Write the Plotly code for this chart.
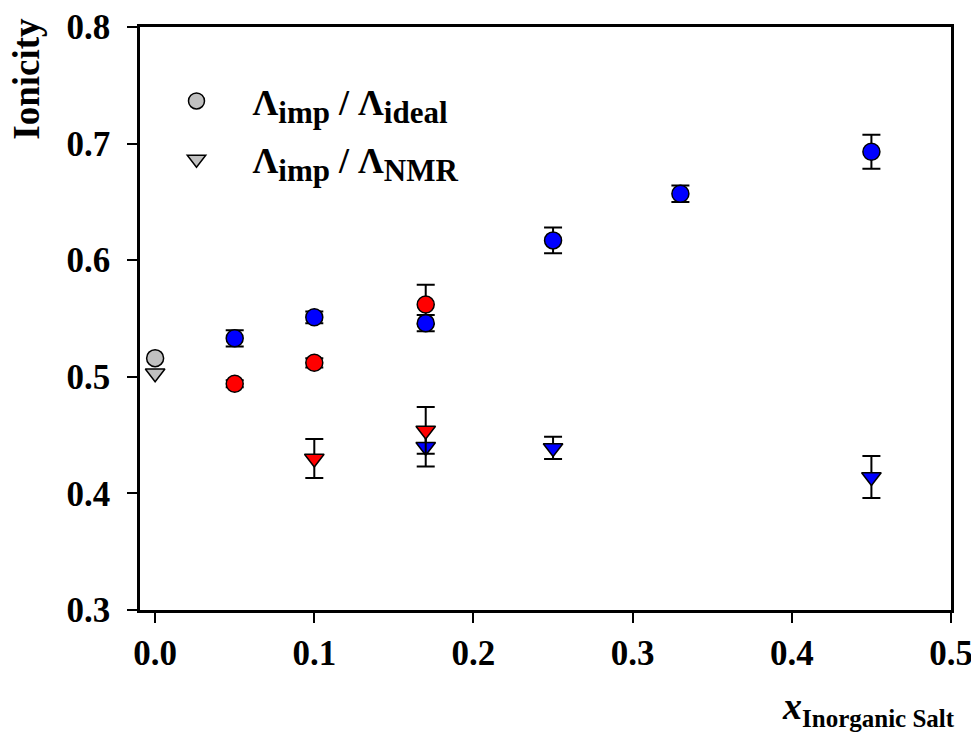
import plotly.graph_objects as go

# Pure IL (x = 0), grey
x_pure = [0.0]
ion_ideal_pure = [0.516]
ion_nmr_pure = [0.503]

# Blue series: Λimp/Λideal (circles)
x_blue_c = [0.05, 0.10, 0.17, 0.25, 0.33, 0.45]
y_blue_c = [0.533, 0.551, 0.546, 0.617, 0.657, 0.693]
e_blue_c = [0.007, 0.005, 0.007, 0.011, 0.007, 0.0145]

# Red series: Λimp/Λideal (circles)
x_red_c = [0.05, 0.10, 0.17]
y_red_c = [0.494, 0.512, 0.562]
e_red_c = [0.003, 0.004, 0.017]

# Blue series: Λimp/ΛNMR (triangles)
x_blue_t = [0.17, 0.25, 0.45]
y_blue_t = [0.440, 0.439, 0.414]
e_blue_t = [0.017, 0.0095, 0.018]

# Red series: Λimp/ΛNMR (triangles)
x_red_t = [0.10, 0.17]
y_red_t = [0.430, 0.454]
e_red_t = [0.0167, 0.020]

x_ticks = [0.0, 0.1, 0.2, 0.3, 0.4, 0.5]
x_ticktext = ["0.0", "0.1", "0.2", "0.3", "0.4", "0.5"]
y_ticks = [0.3, 0.4, 0.5, 0.6, 0.7, 0.8]
y_ticktext = ["0.3", "0.4", "0.5", "0.6", "0.7", "0.8"]

FONT = "Liberation Serif"
ERR = dict(type="data", color="black", thickness=2, width=9)
PAD = "\u00a0" * 4

def trace(x, y, e, color, symbol, name=None, legend=None):
    return go.Scatter(
        x=x, y=y, mode="markers",
        error_y=dict(array=e, **ERR) if e is not None else None,
        marker=dict(color=color, symbol=symbol, size=17,
                    line=dict(color="black", width=1.5)),
        name=name or "", showlegend=legend is not None,
        legend=legend or "legend",
    )

SUB = "<sub><span style='font-size:31px'>{}</span></sub>"

fig = go.Figure()
fig.add_trace(trace(x_red_c, y_red_c, e_red_c, "#ff0000", "circle"))
fig.add_trace(trace(x_blue_c, y_blue_c, e_blue_c, "#0000ff", "circle"))
fig.add_trace(trace(x_blue_t, y_blue_t, e_blue_t, "#0000ff", "triangle-down"))
fig.add_trace(trace(x_red_t, y_red_t, e_red_t, "#ff0000", "triangle-down"))
fig.add_trace(trace(x_pure, ion_ideal_pure, None, "#c0c0c0", "circle",
                    name=PAD + "Λ" + SUB.format("imp") + " / Λ" + SUB.format("ideal"),
                    legend="legend"))
fig.add_trace(trace(x_pure, ion_nmr_pure, None, "#c0c0c0", "triangle-down",
                    name=PAD + "Λ" + SUB.format("imp") + " / Λ" + SUB.format("NMR"),
                    legend="legend2"))

legend_common = dict(font=dict(family=FONT, size=36, color="black", weight="bold"),
                     bgcolor="rgba(0,0,0,0)", itemsizing="trace",
                     xanchor="left", yanchor="middle")

fig.update_layout(
    width=971, height=732,
    margin=dict(l=132, r=28, t=19, b=130),
    paper_bgcolor="white", plot_bgcolor="white",
    font=dict(family=FONT, size=34, color="black"),
    legend=dict(x=0.045, y=0.873, **legend_common),
    legend2=dict(x=0.045, y=0.773, **legend_common),
    xaxis=dict(range=[-0.0095, 0.5], tickvals=x_ticks, ticktext=x_ticktext,
               ticks="outside", ticklen=10, tickwidth=2, tickcolor="black",
               showline=True, linecolor="black", linewidth=2.5, mirror=True,
               showgrid=False, zeroline=False, automargin=False,
               tickfont=dict(family=FONT, size=35, color="black", weight="bold")),
    yaxis=dict(range=[0.3, 0.8], tickvals=y_ticks, ticktext=y_ticktext,
               ticks="outside", ticklen=10, tickwidth=2, tickcolor="black",
               showline=True, linecolor="black", linewidth=2.5, mirror=True,
               showgrid=False, zeroline=False, ticklabelstandoff=10, automargin=False,
               tickfont=dict(family=FONT, size=35, color="black", weight="bold")),
    annotations=[
        dict(text="<b>Ionicity</b>", textangle=-90, xref="paper", yref="paper",
             x=-0.14, y=0.912, xanchor="center", yanchor="middle", showarrow=False,
             font=dict(family=FONT, size=37, color="black")),
        dict(text="<b><i>x</i></b><sub><b><span style='font-size:25px'>Inorganic Salt</span></b></sub>",
             xref="paper", yref="paper", x=1.007, y=-0.212, xanchor="right", yanchor="bottom",
             showarrow=False, font=dict(family=FONT, size=38, color="black")),
    ],
)

fig.write_html("out.html")
